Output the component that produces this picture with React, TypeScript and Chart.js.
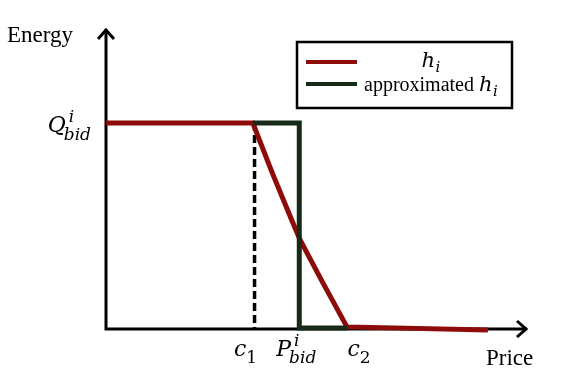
import React, { useEffect, useRef } from "react";
import { Chart, registerables } from "chart.js";

Chart.register(...registerables);

// ---- data (price on x, energy on y, both in relative units 0..100) ----
const hPrice = [0, 34.8, 39.3, 44.1, 46.0, 51.4, 57.1, 90.5];
const hEnergy = [68.4, 68.4, 52.2, 35.9, 29.6, 15.3, 0.7, -0.3];
const approxPrice = [34.8, 45.8, 45.8, 57.1];
const approxEnergy = [68.4, 68.4, 0.3, 0.3];
const c1Price = [35.2, 35.2];
const c1Energy = [68.4, 0];
const seriesLabels = ["h", "approximated h"];
const seriesSubs = ["i", "i"];
const xTickValues = [35.2, 45.8, 57.1];
const xTickBases = ["c", "P", "c"];
const xTickSups = ["", "i", ""];
const xTickSubs = ["1", "bid", "2"];
const yTickValues = [68.4];
const yTickBases = ["Q"];
const yTickSups = ["i"];
const yTickSubs = ["bid"];
const xAxisTitle = "Price";
const yAxisTitle = "Energy";

const RED = "#8e0b0b";
const GREEN = "#162a17";
const MATH = "'DejaVu Serif'";
const TEXT = "'Liberation Serif'";

function drawMath(
  ctx: CanvasRenderingContext2D,
  base: string,
  sup: string,
  sub: string,
  x: number,
  y: number,
  align: "left" | "center" | "right",
  size: number,
  small: number,
  supDy: number,
  subDy: number,
  subDxIn?: number
) {
  const subFont = (s: string) =>
    /^[0-9]+$/.test(s) ? `${small}px ${MATH}` : `italic ${small}px ${MATH}`;
  const supDx = sup ? 3 : 0;
  const subDx = subDxIn !== undefined ? subDxIn : /^[0-9]+$/.test(sub) ? 0 : -2;
  ctx.font = `italic ${size}px ${MATH}`;
  const wb = ctx.measureText(base).width;
  ctx.font = subFont(sup);
  const ws = sup ? ctx.measureText(sup).width + supDx : 0;
  ctx.font = subFont(sub);
  const wsub = sub ? ctx.measureText(sub).width + subDx : 0;
  const total = wb + Math.max(ws, wsub);
  let left = x;
  if (align === "center") left = x - total / 2;
  if (align === "right") left = x - total;
  ctx.textAlign = "left";
  ctx.textBaseline = "alphabetic";
  ctx.fillStyle = "#000";
  ctx.font = `italic ${size}px ${MATH}`;
  ctx.fillText(base, left, y);
  if (sup) {
    ctx.font = subFont(sup);
    ctx.fillText(sup, left + wb + supDx, y + supDy);
  }
  if (sub) {
    ctx.font = subFont(sub);
    ctx.fillText(sub, left + wb + subDx, y + subDy);
  }
}

const decorPlugin = {
  id: "decor",
  beforeDatasetsDraw(chart: any) {
    const ctx = chart.ctx as CanvasRenderingContext2D;
    const xs = chart.scales.x;
    const ys = chart.scales.y;
    const ox = xs.getPixelForValue(0);
    const oy = ys.getPixelForValue(0);
    const xEnd = xs.getPixelForValue(xs.max);
    const yEnd = ys.getPixelForValue(ys.max);
    ctx.save();
    ctx.strokeStyle = "#000";
    ctx.lineWidth = 3;
    ctx.lineCap = "butt";
    ctx.beginPath();
    ctx.moveTo(ox, oy);
    ctx.lineTo(ox, yEnd + 1);
    ctx.moveTo(ox - 1.5, oy);
    ctx.lineTo(xEnd - 1, oy);
    ctx.stroke();
    ctx.lineJoin = "miter";
    ctx.beginPath();
    ctx.moveTo(ox - 8, yEnd + 11);
    ctx.lineTo(ox, yEnd + 2);
    ctx.lineTo(ox + 8, yEnd + 11);
    ctx.moveTo(xEnd - 11, oy - 8);
    ctx.lineTo(xEnd - 2, oy);
    ctx.lineTo(xEnd - 11, oy + 8);
    ctx.stroke();
    ctx.restore();
  },
  afterDraw(chart: any) {
    const ctx = chart.ctx as CanvasRenderingContext2D;
    const xs = chart.scales.x;
    const ys = chart.scales.y;
    const ox = xs.getPixelForValue(0);
    const oy = ys.getPixelForValue(0);
    const xEnd = xs.getPixelForValue(xs.max);
    const yEnd = ys.getPixelForValue(ys.max);
    ctx.save();
    // axis titles
    ctx.fillStyle = "#000";
    ctx.font = `23px ${TEXT}`;
    ctx.textAlign = "left";
    ctx.textBaseline = "alphabetic";
    ctx.fillText(yAxisTitle, 7, yEnd + 14);
    ctx.fillText(xAxisTitle, xEnd - 42, oy + 36);
    // tick labels
    const xOffsets = [-9, -3, 12];
    xTickValues.forEach((v, i) => {
      drawMath(ctx, xTickBases[i], xTickSups[i], xTickSubs[i], xs.getPixelForValue(v) + xOffsets[i], oy + 27, "center", 22, 17, -10, 7);
    });
    yTickValues.forEach((v, i) => {
      drawMath(ctx, yTickBases[i], yTickSups[i], yTickSubs[i], ox - 15, ys.getPixelForValue(v) + 9, "right", 22, 17, -10.5, 8);
    });
    // legend
    const lx = 297, ly = 42, lw = 215, lh = 66;
    ctx.strokeStyle = "#000";
    ctx.lineWidth = 2.5;
    ctx.strokeRect(lx, ly, lw, lh);
    const colors = [RED, GREEN];
    const rowY = [62, 84];
    seriesLabels.forEach((lab, i) => {
      ctx.strokeStyle = colors[i];
      ctx.lineWidth = 4;
      ctx.beginPath();
      ctx.moveTo(306, rowY[i]);
      ctx.lineTo(357, rowY[i]);
      ctx.stroke();
    });
    // row 1: h_i centered
    drawMath(ctx, seriesLabels[0], "", seriesSubs[0], 431, 67, "center", 21, 15, 0, 5, 0.5);
    // row 2: approximated h_i
    const words = seriesLabels[1].split(" ");
    ctx.font = `20px ${TEXT}`;
    ctx.fillStyle = "#000";
    ctx.textAlign = "left";
    const w1 = ctx.measureText(words[0] + " ").width;
    ctx.fillText(words[0] + " ", 364, 91);
    drawMath(ctx, words[1], "", seriesSubs[1], 364 + w1, 91, "left", 21, 15, 0, 5, 0.5);
    ctx.restore();
  },
};

export default function App() {
  const ref = useRef<HTMLCanvasElement | null>(null);
  useEffect(() => {
    if (!ref.current) return;
    const toPts = (xa: number[], ya: number[]) => xa.map((x, i) => ({ x, y: ya[i] }));
    const chart = new Chart(ref.current, {
      type: "line",
      data: {
        datasets: [
          {
            label: "approximated h_i",
            data: toPts(approxPrice, approxEnergy),
            borderColor: GREEN,
            borderWidth: 5,
            pointRadius: 0,
            fill: false,
            tension: 0,
            clip: false as any,
            order: 0,
            borderJoinStyle: "miter",
          },
          {
            label: "h_i",
            data: toPts(hPrice, hEnergy),
            borderColor: RED,
            borderWidth: 5,
            pointRadius: 0,
            fill: false,
            tension: 0,
            clip: false as any,
            order: 1,
          },
          {
            label: "c1",
            data: toPts(c1Price, c1Energy),
            borderColor: "#000",
            borderWidth: 3.5,
            borderDash: [8, 4],
            pointRadius: 0,
            fill: false,
            clip: false as any,
            order: 2,
          },
        ],
      },
      options: {
        animation: false,
        responsive: false,
        maintainAspectRatio: false,
        events: [],
        layout: { padding: { left: 106, right: 54, top: 28, bottom: 56 } },
        scales: {
          x: { type: "linear", min: 0, max: 100, display: false },
          y: { type: "linear", min: 0, max: 100, display: false },
        },
        plugins: { legend: { display: false }, tooltip: { enabled: false } },
      },
      plugins: [decorPlugin],
    });
    return () => chart.destroy();
  }, []);
  return (
    <div style={{ position: "fixed", left: 0, top: 0, width: 582, height: 385, background: "#fff" }}>
      <canvas ref={ref} width={582} height={385} style={{ width: 582, height: 385 }} />
    </div>
  );
}
